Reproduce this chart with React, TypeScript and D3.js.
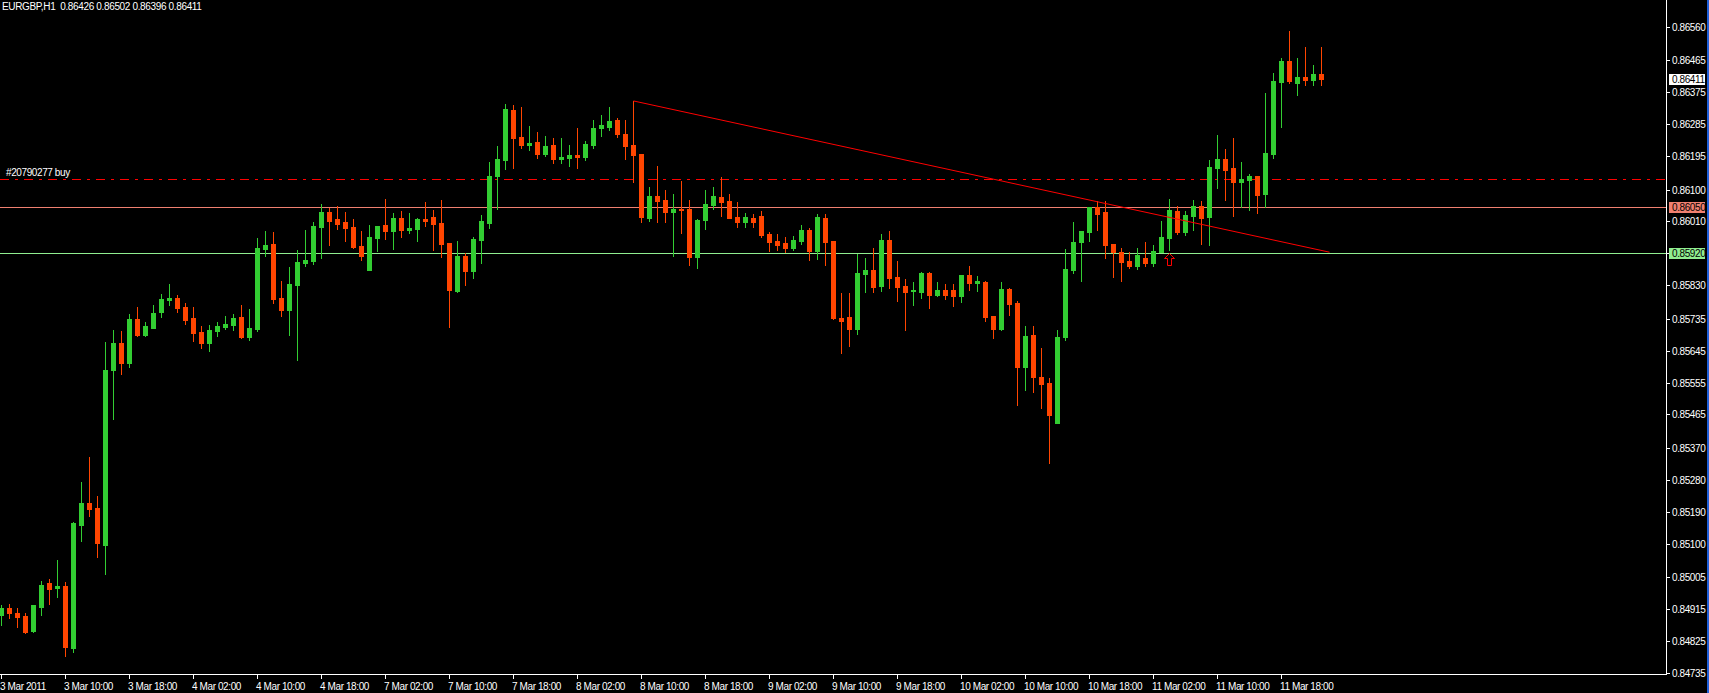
import { useEffect, useRef } from "react";
import * as d3 from "d3";

// EURGBP H1, 3 Mar 2011 02:00 .. 11 Mar 2011 23:00 (one entry per hourly bar)
const symbolTitle = "EURGBP,H1  0.86426 0.86502 0.86396 0.86411";

const opens = [
  0.84899, 0.84918, 0.84904, 0.84896, 0.84853, 0.84921, 0.84989, 0.84975, 0.8498, 0.84806,
  0.85153, 0.85216, 0.85201, 0.85097, 0.85591, 0.85667, 0.8561, 0.85734, 0.85689, 0.85709,
  0.85754, 0.85788, 0.85794, 0.85768, 0.85737, 0.85698, 0.85667, 0.857, 0.85712, 0.85717,
  0.8574, 0.85684, 0.85706, 0.85932, 0.85946, 0.85794, 0.8576, 0.8583, 0.85892, 0.85898,
  0.85994, 0.86036, 0.86016, 0.86008, 0.85994, 0.8594, 0.85873, 0.85963, 0.85999, 0.85982,
  0.86019, 0.85985, 0.85988, 0.86016, 0.86022, 0.86005, 0.85949, 0.85813, 0.85912, 0.8587,
  0.85957, 0.86005, 0.86139, 0.86184, 0.86325, 0.86249, 0.86226, 0.86234, 0.86201, 0.86226,
  0.86187, 0.86189, 0.86198, 0.86192, 0.86226, 0.86274, 0.86277, 0.86297, 0.86257, 0.86226,
  0.86201, 0.86019, 0.86082, 0.8607, 0.86036, 0.86045, 0.86045, 0.85909, 0.86014, 0.86056,
  0.86079, 0.86067, 0.86022, 0.86008, 0.86019, 0.86025, 0.85974, 0.85954, 0.85949, 0.85935,
  0.85954, 0.85985, 0.85926, 0.86019, 0.85954, 0.85737, 0.8574, 0.85706, 0.85861, 0.85873,
  0.85827, 0.85957, 0.85853, 0.85827, 0.85813, 0.8581, 0.85864, 0.85802, 0.85816, 0.85816,
  0.85799, 0.85858, 0.85836, 0.85839, 0.85743, 0.85706, 0.85819, 0.8578, 0.85599, 0.85689,
  0.85571, 0.85554, 0.85441, 0.85684, 0.85873, 0.85951, 0.8598, 0.8605, 0.86036, 0.85946,
  0.85923, 0.85898, 0.85884, 0.85906, 0.85892, 0.85923, 0.85963, 0.86039, 0.8598, 0.86025,
  0.86053, 0.86022, 0.86161, 0.86187, 0.86161, 0.86122, 0.86127, 0.86139, 0.86088, 0.86201,
  0.86404, 0.86463, 0.86401, 0.86418, 0.86409, 0.86426,
];
const highs = [
  0.84927, 0.8493, 0.84918, 0.84904, 0.84927, 0.84994, 0.85, 0.85054, 0.84992, 0.85162,
  0.85275, 0.85345, 0.85235, 0.85669, 0.85703, 0.857, 0.85748, 0.85768, 0.85726, 0.85774,
  0.85805, 0.85833, 0.85802, 0.8578, 0.85768, 0.85715, 0.85717, 0.85726, 0.85743, 0.85748,
  0.85774, 0.85763, 0.85963, 0.85982, 0.8598, 0.85841, 0.85881, 0.85929, 0.85985, 0.86008,
  0.86059, 0.86047, 0.86053, 0.86036, 0.86016, 0.85982, 0.85999, 0.85997, 0.86074, 0.86033,
  0.86039, 0.86033, 0.86019, 0.86064, 0.86042, 0.8607, 0.85949, 0.85954, 0.85921, 0.85966,
  0.86028, 0.86178, 0.86223, 0.86342, 0.86339, 0.86333, 0.8628, 0.86263, 0.86251, 0.86246,
  0.86246, 0.86226, 0.86274, 0.86237, 0.86297, 0.86311, 0.86333, 0.86302, 0.86297, 0.8635,
  0.86201, 0.86108, 0.86167, 0.86099, 0.86088, 0.86124, 0.8607, 0.86016, 0.86099, 0.86108,
  0.86136, 0.86088, 0.86064, 0.86033, 0.8603, 0.86039, 0.8598, 0.85974, 0.85966, 0.85968,
  0.85999, 0.85991, 0.8603, 0.8603, 0.85954, 0.85808, 0.85808, 0.85918, 0.85906, 0.85935,
  0.85974, 0.85982, 0.85898, 0.85847, 0.85839, 0.85867, 0.85867, 0.85839, 0.85833, 0.85833,
  0.85858, 0.85884, 0.85856, 0.85841, 0.85743, 0.85839, 0.85822, 0.85785, 0.85715, 0.85715,
  0.85653, 0.85568, 0.85703, 0.85932, 0.86008, 0.85982, 0.8605, 0.86067, 0.86067, 0.85946,
  0.85935, 0.85923, 0.85935, 0.85951, 0.85943, 0.86011, 0.86074, 0.86053, 0.86039, 0.8607,
  0.86067, 0.86184, 0.86254, 0.86215, 0.86246, 0.86178, 0.86144, 0.86139, 0.86373, 0.86429,
  0.86471, 0.86547, 0.86471, 0.86502, 0.86452, 0.86502,
];
const lows = [
  0.8487, 0.8489, 0.84865, 0.84848, 0.84851, 0.84899, 0.8493, 0.84949, 0.84783, 0.84794,
  0.85108, 0.85179, 0.85062, 0.85014, 0.85452, 0.85579, 0.85599, 0.85686, 0.85686, 0.85709,
  0.8574, 0.85774, 0.85754, 0.8572, 0.85672, 0.85653, 0.85644, 0.85686, 0.85706, 0.85703,
  0.85681, 0.85675, 0.857, 0.85912, 0.8578, 0.85743, 0.85689, 0.85619, 0.85884, 0.85889,
  0.85906, 0.85943, 0.85988, 0.85954, 0.85935, 0.85901, 0.85873, 0.85926, 0.8596, 0.85932,
  0.85966, 0.85977, 0.85954, 0.85997, 0.85929, 0.85909, 0.85712, 0.8581, 0.8583, 0.8585,
  0.85892, 0.85991, 0.86045, 0.86158, 0.86161, 0.86218, 0.86212, 0.86189, 0.86195, 0.86175,
  0.86175, 0.86167, 0.86161, 0.86184, 0.86218, 0.86251, 0.86268, 0.86249, 0.86187, 0.86122,
  0.86008, 0.86011, 0.86008, 0.86008, 0.85912, 0.85977, 0.85887, 0.85878, 0.85988, 0.86045,
  0.86025, 0.86019, 0.85994, 0.85994, 0.85994, 0.85966, 0.85926, 0.85929, 0.85923, 0.85929,
  0.85946, 0.85901, 0.85904, 0.85887, 0.85734, 0.85639, 0.85658, 0.85692, 0.8581, 0.8581,
  0.85813, 0.85822, 0.85785, 0.85703, 0.85774, 0.85794, 0.85765, 0.85799, 0.85791, 0.85771,
  0.85782, 0.85816, 0.85813, 0.85729, 0.85681, 0.85703, 0.85746, 0.85492, 0.85534, 0.85528,
  0.85483, 0.85328, 0.85441, 0.85675, 0.85864, 0.85841, 0.85954, 0.85985, 0.85906, 0.85853,
  0.85841, 0.85878, 0.85875, 0.85884, 0.85884, 0.85923, 0.85929, 0.85974, 0.85971, 0.85985,
  0.85946, 0.85943, 0.86105, 0.8607, 0.86025, 0.8605, 0.86042, 0.86033, 0.8605, 0.86189,
  0.86277, 0.86401, 0.86367, 0.86395, 0.86395, 0.86396,
];
const closes = [
  0.84918, 0.84904, 0.84893, 0.84851, 0.84927, 0.84983, 0.84972, 0.8498, 0.84808, 0.85159,
  0.85216, 0.85199, 0.85103, 0.85591, 0.85667, 0.8561, 0.85734, 0.85689, 0.85715, 0.85751,
  0.85791, 0.85794, 0.85765, 0.85732, 0.85695, 0.85667, 0.85703, 0.85715, 0.8572, 0.85737,
  0.85684, 0.85709, 0.85935, 0.85943, 0.85791, 0.8576, 0.85833, 0.85895, 0.85901, 0.85997,
  0.86036, 0.86011, 0.86002, 0.85991, 0.85937, 0.85912, 0.85966, 0.85997, 0.85982, 0.86019,
  0.85985, 0.85991, 0.86016, 0.86011, 0.86002, 0.85946, 0.85816, 0.85912, 0.8587, 0.8596,
  0.86011, 0.86139, 0.86187, 0.86328, 0.86246, 0.86226, 0.86232, 0.86201, 0.86223, 0.86187,
  0.86192, 0.86198, 0.86192, 0.86229, 0.86274, 0.86282, 0.86294, 0.86257, 0.86223, 0.86198,
  0.86022, 0.86082, 0.86067, 0.86036, 0.86045, 0.86042, 0.85909, 0.86014, 0.86059, 0.86082,
  0.86064, 0.86019, 0.86008, 0.86022, 0.86008, 0.85971, 0.85951, 0.85943, 0.85935, 0.85957,
  0.85985, 0.85926, 0.86022, 0.85951, 0.85737, 0.85729, 0.85706, 0.85864, 0.85873, 0.85825,
  0.85957, 0.8585, 0.85825, 0.8581, 0.85816, 0.85864, 0.85802, 0.85816, 0.85802, 0.85799,
  0.85858, 0.85836, 0.85841, 0.8574, 0.85706, 0.85819, 0.85777, 0.85599, 0.85686, 0.85571,
  0.85551, 0.85464, 0.85684, 0.85875, 0.85951, 0.85982, 0.8605, 0.8603, 0.85943, 0.85923,
  0.85895, 0.85884, 0.85915, 0.85892, 0.85926, 0.85966, 0.86042, 0.8598, 0.86028, 0.86053,
  0.86019, 0.86164, 0.86187, 0.86156, 0.86122, 0.8613, 0.86139, 0.86085, 0.86204, 0.86406,
  0.86463, 0.86406, 0.86418, 0.86409, 0.86426, 0.86411,
];

const timeLabels = [
  "3 Mar 2011", "3 Mar 10:00", "3 Mar 18:00", "4 Mar 02:00", "4 Mar 10:00", "4 Mar 18:00",
  "7 Mar 02:00", "7 Mar 10:00", "7 Mar 18:00", "8 Mar 02:00", "8 Mar 10:00", "8 Mar 18:00",
  "9 Mar 02:00", "9 Mar 10:00", "9 Mar 18:00", "10 Mar 02:00", "10 Mar 10:00", "10 Mar 18:00",
  "11 Mar 02:00", "11 Mar 10:00", "11 Mar 18:00",
];
const barsPerTimeLabel = 8;

const priceTicks = [
  0.8656, 0.86465, 0.86375, 0.86285, 0.86195, 0.861, 0.8601, 0.8592, 0.8583, 0.85735,
  0.85645, 0.85555, 0.85465, 0.8537, 0.8528, 0.8519, 0.851, 0.85005, 0.84915, 0.84825, 0.84735,
];

const orderPrice = 0.86129;
const orderLabel = "#20790277 buy";
const resistanceLevel = 0.8605;
const supportLevel = 0.8592;
const lastPrice = 0.86411;
const trendPoints = [
  { bar: 79, price: 0.8635 },
  { bar: 166, price: 0.85923 },
];
const buyArrow = { bar: 146, price: 0.8592 };

const WIDTH = 1709;
const HEIGHT = 693;
const PLOT_RIGHT = 1666;
const PLOT_BOTTOM = 674;

const BULL = "#32cd32";
const BEAR = "#ff4500";
const FONT = "'Liberation Sans', Arial, sans-serif";

export default function App() {
  const svgRef = useRef<SVGSVGElement | null>(null);

  useEffect(() => {
    const svgEl = svgRef.current;
    if (!svgEl) return;
    document.body.style.margin = "0";
    document.body.style.background = "#000";

    const svg = d3.select(svgEl);
    svg.selectAll("*").remove();
    svg.attr("width", WIDTH).attr("height", HEIGHT);

    // 8 px per hourly bar, first bar centred at x = 1.5
    const x = d3.scaleLinear().domain([0, 208]).range([1.5, 1665.5]);
    const y = d3.scaleLinear().domain([0.84735, 0.86635]).range([673, 0]);
    const py = (p: number) => Math.round(y(p));

    svg.append("rect").attr("width", WIDTH).attr("height", HEIGHT).attr("fill", "#000");

    const g = svg.append("g");

    // horizontal levels
    g.append("line")
      .attr("x1", 0).attr("x2", PLOT_RIGHT)
      .attr("y1", py(resistanceLevel) + 0.5).attr("y2", py(resistanceLevel) + 0.5)
      .attr("stroke", "#f08070");
    g.append("line")
      .attr("x1", 0).attr("x2", PLOT_RIGHT)
      .attr("y1", py(supportLevel) + 0.5).attr("y2", py(supportLevel) + 0.5)
      .attr("stroke", "#90ee90");
    g.append("line")
      .attr("x1", 0).attr("x2", PLOT_RIGHT)
      .attr("y1", py(orderPrice) + 0.5).attr("y2", py(orderPrice) + 0.5)
      .attr("stroke", "#ff0000")
      .attr("stroke-dasharray", "9 6 3 6");
    g.append("text")
      .attr("x", 6).attr("y", py(orderPrice) - 3)
      .attr("fill", "#fff")
      .attr("font-family", FONT).attr("font-size", 10).attr("letter-spacing", -0.4)
      .text(orderLabel);

    // candles
    const bars = d3.range(opens.length).map((i) => ({
      i,
      o: opens[i],
      h: highs[i],
      l: lows[i],
      c: closes[i],
    }));

    const candle = g.selectAll("g.candle").data(bars).enter().append("g").attr("class", "candle");
    candle
      .append("rect")
      .attr("x", (d) => x(d.i) - 0.5)
      .attr("y", (d) => py(d.h))
      .attr("width", 1)
      .attr("height", (d) => py(d.l) - py(d.h) + 1)
      .attr("fill", (d) => (d.c >= d.o ? BULL : BEAR));
    candle
      .append("rect")
      .attr("x", (d) => x(d.i) - 2.5)
      .attr("y", (d) => py(Math.max(d.o, d.c)))
      .attr("width", 5)
      .attr("height", (d) => Math.max(1, py(Math.min(d.o, d.c)) - py(Math.max(d.o, d.c)) + 1))
      .attr("fill", (d) => (d.c >= d.o ? BULL : BEAR));

    // trend line
    g.append("path")
      .datum(trendPoints)
      .attr("fill", "none")
      .attr("stroke", "#ff0000")
      .attr("stroke-width", 1)
      .attr("d", d3.line<{ bar: number; price: number }>().x((p) => x(p.bar)).y((p) => y(p.price)) as any);

    // buy arrow
    const ax = x(buyArrow.bar);
    const at = py(buyArrow.price) + 0.5;
    g.append("path")
      .attr("d", `M${ax},${at} L${ax + 5},${at + 5} L${ax + 2},${at + 5} L${ax + 2},${at + 12} L${ax - 2},${at + 12} L${ax - 2},${at + 5} L${ax - 5},${at + 5} Z`)
      .attr("fill", "none")
      .attr("stroke", "#ff0000");

    // frame
    g.append("line")
      .attr("x1", 0).attr("x2", PLOT_RIGHT + 1)
      .attr("y1", PLOT_BOTTOM + 0.5).attr("y2", PLOT_BOTTOM + 0.5)
      .attr("stroke", "#fff");
    g.append("line")
      .attr("x1", PLOT_RIGHT + 0.5).attr("x2", PLOT_RIGHT + 0.5)
      .attr("y1", 0).attr("y2", PLOT_BOTTOM + 1)
      .attr("stroke", "#fff");

    // price axis
    const pAxis = g.append("g");
    const hidden = new Set([supportLevel]);
    pAxis.selectAll("line.tick")
      .data(priceTicks)
      .enter()
      .append("line")
      .attr("x1", PLOT_RIGHT).attr("x2", PLOT_RIGHT + 4)
      .attr("y1", (p) => py(p) + 0.5).attr("y2", (p) => py(p) + 0.5)
      .attr("stroke", "#fff");
    pAxis.selectAll("text.tick")
      .data(priceTicks.filter((p) => !hidden.has(p)))
      .enter()
      .append("text")
      .attr("x", PLOT_RIGHT + 6)
      .attr("y", (p) => py(p) + 4)
      .attr("fill", "#fff")
      .attr("font-family", FONT).attr("font-size", 10).attr("letter-spacing", -0.4)
      .text((p) => d3.format(".5f")(p));

    const badges = [
      { p: lastPrice, bg: "#fff" },
      { p: resistanceLevel, bg: "#f08070" },
      { p: supportLevel, bg: "#90ee90" },
    ];
    badges.forEach((b) => {
      pAxis.append("rect")
        .attr("x", PLOT_RIGHT + 3).attr("y", py(b.p) - 5)
        .attr("width", 36).attr("height", 11)
        .attr("fill", b.bg);
      pAxis.append("text")
        .attr("x", PLOT_RIGHT + 6).attr("y", py(b.p) + 4)
        .attr("fill", "#000")
        .attr("font-family", FONT).attr("font-size", 10).attr("letter-spacing", -0.4)
        .text(d3.format(".5f")(b.p));
    });

    // time axis
    const tAxis = g.append("g");
    timeLabels.forEach((label, k) => {
      const tx = x(k * barsPerTimeLabel);
      tAxis.append("line")
        .attr("x1", tx).attr("x2", tx)
        .attr("y1", PLOT_BOTTOM + 1).attr("y2", PLOT_BOTTOM + 5)
        .attr("stroke", "#fff");
      tAxis.append("text")
        .attr("x", Math.max(0, tx - 1.5)).attr("y", 690)
        .attr("fill", "#fff")
        .attr("font-family", FONT).attr("font-size", 10).attr("letter-spacing", -0.4)
        .text(label);
    });

    // title
    g.append("text")
      .attr("x", 2).attr("y", 9.5)
      .attr("fill", "#fff")
      .attr("font-family", FONT).attr("font-size", 10).attr("letter-spacing", -0.35)
      .attr("xml:space", "preserve")
      .style("white-space", "pre")
      .text(symbolTitle);

    // window border
    svg.append("rect").attr("x", 1707).attr("y", 0).attr("width", 2).attr("height", HEIGHT).attr("fill", "#2060d8");
  }, []);

  return (
    <svg
      ref={svgRef}
      style={{ position: "absolute", left: 0, top: 0, display: "block" }}
      role="img"
      aria-label="EURGBP H1 candlestick chart"
    />
  );
}
